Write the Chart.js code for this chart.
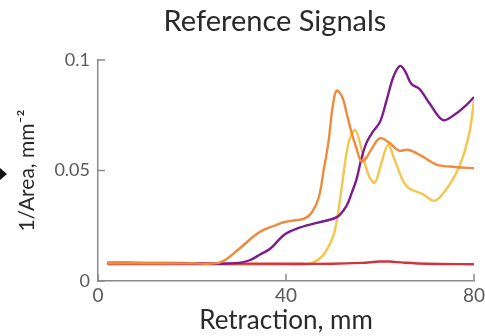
<!DOCTYPE html>
<html>
<head>
<meta charset="utf-8">
<script src="https://cdn.jsdelivr.net/npm/chart.js@4"></script>
<style>
  html, body { margin: 0; padding: 0; background: #fff; }
  #wrap { width: 485px; height: 336px; }
</style>
</head>
<body>
<div id="wrap"><canvas id="myChart" width="485" height="336"></canvas></div>
<script>
// values (x in mm, y in 1/mm^2)
const orangeX = [2, 10, 20, 26, 30, 33, 35, 37.5, 39.5, 42, 44, 45.5, 47, 48, 49, 50, 50.8, 52, 53, 54, 55, 56, 57, 58, 60, 62, 64, 66, 69, 72, 76, 80]
const orangeY = [0.0081, 0.0081, 0.0080, 0.0084, 0.0145, 0.020, 0.0229, 0.025, 0.0266, 0.0275, 0.0283, 0.031, 0.038, 0.050, 0.0624, 0.080, 0.0862, 0.083, 0.075, 0.0668, 0.060, 0.0542, 0.0555, 0.0590, 0.0646, 0.0625, 0.0590, 0.0594, 0.0564, 0.0527, 0.0516, 0.051]

const purpleX = [2, 10, 20, 26, 30, 32.4, 34.5, 36.7, 39.5, 42.3, 46.5, 50.8, 52.9, 54, 55, 56, 57.1, 58.5, 60, 61.4, 62.8, 64.2, 65.3, 66.7, 68.4, 70.6, 73.4, 76.2, 78.3, 80]
const purpleY = [0.0083, 0.0082, 0.0080, 0.0078, 0.0082, 0.0095, 0.012, 0.0147, 0.0207, 0.0237, 0.0263, 0.0289, 0.0341, 0.040, 0.046, 0.055, 0.0624, 0.0676, 0.072, 0.0817, 0.0921, 0.0973, 0.0951, 0.0891, 0.0869, 0.0802, 0.0728, 0.0758, 0.0795, 0.0832]

const yellowX = [2, 20, 40, 45, 47.9, 50.1, 51, 51.8, 53.3, 54.7, 56.1, 57.5, 58.9, 60.3, 61.7, 63.1, 65.6, 69.1, 71.6, 74.1, 76.9, 79, 80]
const yellowY = [0.0074, 0.0074, 0.0074, 0.0078, 0.0117, 0.0207, 0.030, 0.0415, 0.0624, 0.0683, 0.0594, 0.0482, 0.0445, 0.0534, 0.0616, 0.0549, 0.043, 0.0393, 0.0363, 0.0415, 0.0519, 0.0668, 0.0817]

const redX = [2, 20, 40, 50, 56, 60, 62, 65, 70, 80]
const redY = [0.0079, 0.0079, 0.0078, 0.0078, 0.0082, 0.0088, 0.0088, 0.0083, 0.0078, 0.0076]

const xTicks = [0, 40, 80]
const yTicks = [0, 0.05, 0.1]

const chartTitle = 'Reference Signals'

function pts(xs, ys) {
  return xs.map((x, i) => ({ x: x, y: ys[i] }))
}

function line(data, color) {
  return {
    data: data,
    borderColor: color,
    borderWidth: 2.4,
    pointRadius: 0,
    tension: 0.35,
    fill: false
  }
}

const axisColor = '#8a8a8a'
const font = 'Lato, "Open Sans", sans-serif'

// MATLAB style ticks pointing into the plot, plus the title and the little
// black marker that sits on the left edge of the original figure
const extras = {
  id: 'extras',
  afterDatasetsDraw(chart) {
    const ctx = chart.ctx
    const xs = chart.scales.x
    const ys = chart.scales.y
    ctx.save()
    ctx.strokeStyle = axisColor
    ctx.lineWidth = 1.5
    xTicks.forEach(v => {
      const px = xs.getPixelForValue(v)
      ctx.beginPath()
      ctx.moveTo(px, xs.top)
      ctx.lineTo(px, xs.top - 7)
      ctx.stroke()
    })
    yTicks.forEach(v => {
      const py = ys.getPixelForValue(v)
      ctx.beginPath()
      ctx.moveTo(ys.right, py)
      ctx.lineTo(ys.right + 7, py)
      ctx.stroke()
    })

    ctx.fillStyle = '#2a2a2a'
    ctx.font = '29px ' + font
    ctx.textAlign = 'center'
    ctx.textBaseline = 'middle'
    ctx.fillText(chartTitle, 275, 22)

    ctx.fillStyle = '#111'
    ctx.beginPath()
    ctx.moveTo(0, 168)
    ctx.lineTo(7, 174)
    ctx.lineTo(0, 180)
    ctx.closePath()
    ctx.fill()
    ctx.restore()
  }
}

const ctx = document.getElementById('myChart').getContext('2d')
const myChart = new Chart(ctx, {
  type: 'line',
  data: {
    // first dataset ends up on top
    datasets: [
      line(pts(orangeX, orangeY), '#f08a3c'),
      line(pts(purpleX, purpleY), '#7d1c8c'),
      line(pts(redX, redY), '#d1343f'),
      line(pts(yellowX, yellowY), '#f4c650')
    ]
  },
  options: {
    responsive: false,
    animation: false,
    layout: { padding: { left: 0, right: 0, top: 60, bottom: 0 } },
    plugins: {
      legend: { display: false },
      tooltip: { enabled: false },
      title: { display: false }
    },
    scales: {
      x: {
        type: 'linear',
        min: 0,
        max: 80,
        afterBuildTicks(scale) { scale.ticks = xTicks.map(v => ({ value: v })) },
        afterFit(scale) {
          scale.height = 55
          scale.paddingRight = 11
        },
        grid: { display: false, drawTicks: false },
        border: { display: true, color: axisColor, width: 1.5 },
        ticks: {
          color: '#5a5a5a',
          padding: 3,
          maxRotation: 0,
          font: { family: font, size: 19 }
        },
        title: {
          display: true,
          text: 'Retraction, mm',
          color: '#2a2a2a',
          font: { family: font, size: 26 },
          padding: { top: 0, bottom: 0 }
        }
      },
      y: {
        min: 0,
        max: 0.1,
        afterBuildTicks(scale) { scale.ticks = yTicks.map(v => ({ value: v })) },
        afterFit(scale) { scale.width = 98 },
        grid: { display: false, drawTicks: false },
        border: { display: true, color: axisColor, width: 1.5 },
        ticks: {
          color: '#5a5a5a',
          padding: 8,
          font: { family: font, size: 18 },
          callback: v => String(v)
        },
        title: {
          display: true,
          text: '1/Area, mm⁻²',
          color: '#2a2a2a',
          font: { family: font, size: 21 },
          padding: { top: 15, bottom: 0 }
        }
      }
    }
  },
  plugins: [extras]
})
</script>
</body>
</html>
